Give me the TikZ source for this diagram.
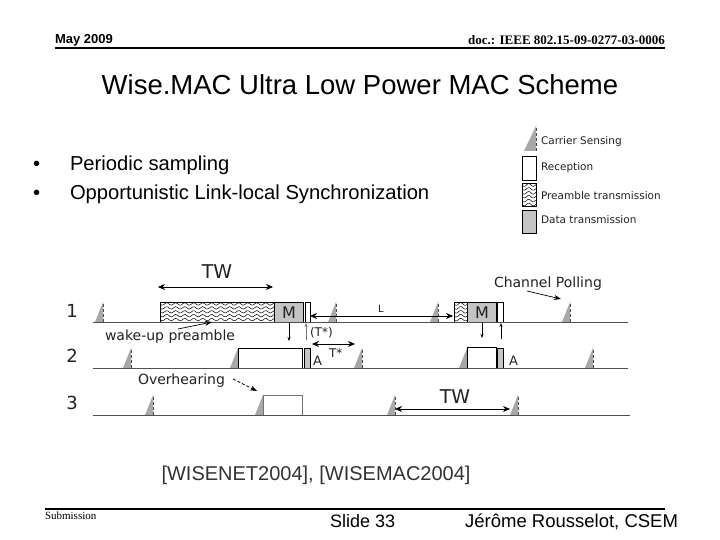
\documentclass[tikz,border=0pt]{standalone}
\usepackage{fontspec}
\setmainfont{Liberation Sans}
\newfontfamily\dvs{DejaVu Sans}
\newfontfamily\tms{Liberation Serif}
\usetikzlibrary{arrows.meta}
\definecolor{csgray}{HTML}{A8A8A8}
\definecolor{datagray}{HTML}{C4C4C4}
\definecolor{linegray}{HTML}{505050}
\definecolor{txt}{HTML}{222222}
\newcommand\Csense[2]{%
  \fill[csgray] (#1,#2) -- ({#1+8},#2) -- ({#1+8},{#2-20}) -- cycle;
  \draw[densely dashed, line width=0.5pt, black!70] ({#1+8},#2) -- ({#1+8},{#2-20});}
\newcommand\Waves[4]{%
  \begin{scope}
  \clip (#1,#2) rectangle (#3,#4);
  \foreach \k in {0,...,5}{
    \draw[line width=0.5pt] plot[domain=0:{#3-#1},samples=60,smooth] ({#1+\x},{#2+2+\k*3.9+1.3*sin(\x*40)});}
  \end{scope}
  \draw[line width=0.6pt] (#1,#2) rectangle (#3,#4);}
\begin{document}
\begin{tikzpicture}[x=1pt,y=-1pt,
  every node/.style={inner sep=0pt, outer sep=0pt},
  box/.style={draw=black, line width=0.6pt},
  databox/.style={box, fill=datagray},
  rxbox/.style={box, fill=white},
  axis/.style={draw=linegray, line width=0.8pt},
  dtext/.style={font=\dvs\fontsize{14}{14}\selectfont, text=txt},
  rowlbl/.style={anchor=base, font=\dvs\fontsize{18}{18}\selectfont, text=txt},
  legtext/.style={font=\dvs\fontsize{10.5}{11}\selectfont, text=txt, anchor=base west},
  twarrow/.style={{Stealth[length=7pt,width=6pt]}-{Stealth[length=7pt,width=6pt]}, line width=0.7pt},
  small/.style={-{Stealth[length=4pt,width=3pt]}, line width=0.6pt},
  pointer/.style={-{Stealth[length=7pt,width=5pt]}, line width=0.7pt}]
\useasboundingbox (0,0) rectangle (720,540);
\fill[white] (0,0) rectangle (720,540);

% header
\node[anchor=base west, font=\bfseries\fontsize{13}{13}\selectfont] (date) at (55,44) {May 2009};
\node[anchor=base east, font=\tms\bfseries\fontsize{13}{13}\selectfont] (doc) at (665,45) {doc.: IEEE 802.15-09-0277-03-0006};
\draw[line width=2pt] (55,48.5) -- (665,48.5);

% title
\node[anchor=base, font=\fontsize{27.5}{30}\selectfont] (title) at (360,95) {Wise.MAC Ultra Low Power MAC Scheme};

% bullets
\node[anchor=base west, font=\fontsize{20}{24}\selectfont] (d1) at (33,171) {•};
\node[anchor=base west, font=\fontsize{20.2}{24}\selectfont] (b1) at (70,171) {Periodic sampling};
\node[anchor=base west, font=\fontsize{20}{24}\selectfont] (d2) at (33,200) {•};
\node[anchor=base west, font=\fontsize{20.2}{24}\selectfont] (b2) at (70,200) {Opportunistic Link-local Synchronization};

% legend
\fill[csgray] (524,151) -- (536,151) -- (536,126) -- cycle;
\draw[densely dashed, line width=0.5pt, black!70] (536,151) -- (536,126);
\node[legtext] (l1) at (541,145) {Carrier Sensing};
\draw[rxbox] (522,156) rectangle (536,180);
\node[legtext] (l2) at (541,171) {Reception};
\Waves{522}{183}{536}{206}
\node[legtext] (l3) at (541,200) {Preamble transmission};
\draw[databox] (522,210) rectangle (536,233);
\node[legtext] (l4) at (541,223) {Data transmission};

% row labels
\node[rowlbl] (r1) at (72,317) {1};
\node[rowlbl] (r2) at (72,362) {2};
\node[rowlbl] (r3) at (72,409) {3};

% row 1
\Csense{95}{322}
\Waves{160}{302}{274}{322}
\draw[databox] (274,302) rectangle (303,322);
\draw[rxbox] (305,302) rectangle (310,322);
\Csense{328}{322}
\Csense{430}{322}
\Waves{454}{302}{467}{322}
\draw[databox] (467,302) rectangle (496,322);
\draw[rxbox] (497,302) rectangle (503,322);
\Csense{562}{322}
\draw[axis] (93,322) -- (628,322);
\node[anchor=base, font=\dvs\fontsize{16}{16}\selectfont, text=txt] (m1) at (289,318) {M};
\node[anchor=base, font=\dvs\fontsize{16}{16}\selectfont, text=txt] (m2) at (482,318) {M};

% row 2
\Csense{123}{368}
\Csense{230}{368}
\draw[rxbox] (238,348) rectangle (302,368);
\draw[databox] (304,348) rectangle (310,368);
\Csense{354}{368}
\Csense{459}{368}
\draw[rxbox] (467,347) rectangle (496,368);
\draw[databox] (497,348) rectangle (503,368);
\Csense{585}{368}
\draw[axis] (93,368) -- (628,368);
\node[anchor=base west, font=\dvs\fontsize{13}{13}\selectfont, text=txt] (a1) at (313,365) {A};
\node[anchor=base west, font=\dvs\fontsize{13}{13}\selectfont, text=txt] (a2) at (509,365) {A};

% row 3
\Csense{145}{415}
\Csense{255}{415}
\draw[draw=black!55, line width=0.6pt, fill=white] (263,395) rectangle (302,415);
\Csense{387}{415}
\Csense{510}{415}
\draw[axis] (93,415) -- (630,415);

% labels
\node[anchor=base, font=\dvs\fontsize{19}{19}\selectfont, text=txt] (tw1) at (217,278) {TW};
\node[anchor=base, font=\dvs\fontsize{19}{19}\selectfont, text=txt] (tw3) at (455,403) {TW};
\node[anchor=base, font=\dvs\fontsize{10}{10}\selectfont, text=txt] (lbl) at (381,312) {L};
\node[anchor=base west, font=\dvs\fontsize{12}{12}\selectfont, text=txt] (tsp) at (310,336) {(T*)};
\node[anchor=base west, font=\dvs\fontsize{12}{12}\selectfont, text=txt] (ts) at (329,357) {T*};
\node[dtext, anchor=base west] (wake) at (105,340) {wake-up preamble};
\node[dtext, anchor=base west] (over) at (138,384) {Overhearing};
\node[dtext, anchor=base west] (poll) at (494,287) {Channel Polling};

% arrow end points
\coordinate (tw1a) at (158,287); \coordinate (tw1b) at (273,287);
\coordinate (la) at (310,316);   \coordinate (lb) at (453,316);
\coordinate (tsa) at (312,344);  \coordinate (tsb) at (355,344);
\coordinate (tw3a) at (395,409); \coordinate (tw3b) at (510,409);
\coordinate (d1a) at (289,323);  \coordinate (d1b) at (289,341);
\coordinate (u1a) at (306,340);  \coordinate (u1b) at (306,323);
\coordinate (d2a) at (482,323);  \coordinate (d2b) at (482,338);
\coordinate (u2a) at (501,339);  \coordinate (u2b) at (501,323);
\coordinate (pa) at (527,291);   \coordinate (pb) at (561,299);
\coordinate (wa) at (178,329);   \coordinate (wb) at (212,322);
\coordinate (oa) at (233,379);   \coordinate (ob) at (257,391);

\draw[twarrow] (tw1a) -- (tw1b);
\draw[twarrow] (la) -- (lb);
\draw[twarrow] (tsa) -- (tsb);
\draw[twarrow] (tw3a) -- (tw3b);
\draw[small] (d1a) -- (d1b);
\draw[small, draw=black!55] (u1a) -- (u1b);
\draw[small] (d2a) -- (d2b);
\draw[small] (u2a) -- (u2b);
\draw[pointer] (pa) -- (pb);
\draw[pointer] (wa) -- (wb);
\draw[pointer, densely dashed] (oa) -- (ob);

% references
\node[anchor=base, font=\fontsize{20}{24}\selectfont, text=black!80] (refs) at (316,480) {[WISENET2004], [WISEMAC2004]};

% footer
\draw[line width=2pt] (45,509) -- (665,509);
\node[anchor=base west, font=\tms\fontsize{11}{11}\selectfont] (sub) at (45,519) {Submission};
\node[anchor=base west, font=\fontsize{18}{18}\selectfont] (slide) at (330,527) {Slide 33};
\node[anchor=base east, font=\fontsize{18.5}{18}\selectfont] (auth) at (678,527) {Jérôme Rousselot, CSEM};
\end{tikzpicture}
\end{document}
